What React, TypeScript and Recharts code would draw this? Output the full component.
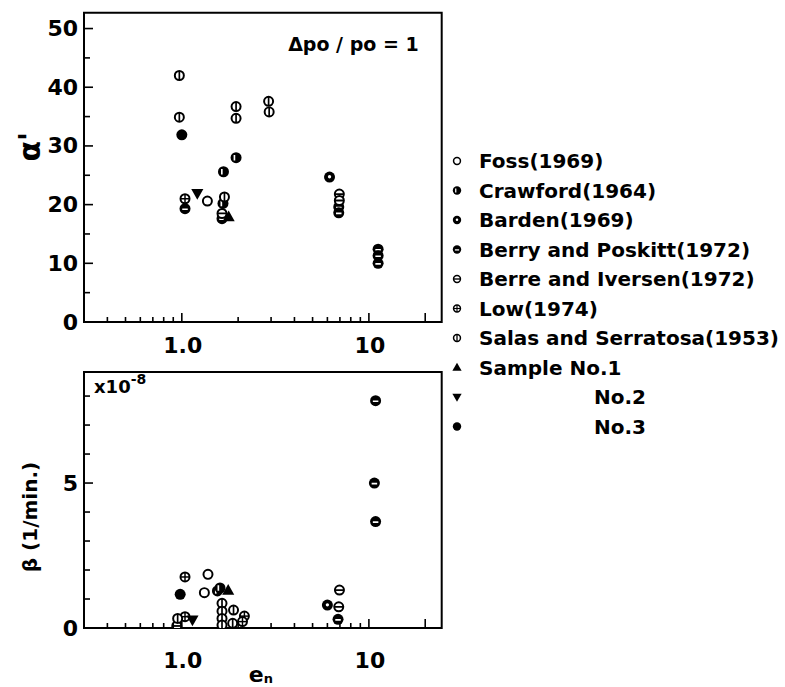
import React from 'react';
import { ScatterChart, Scatter, XAxis, YAxis, Legend, ReferenceArea } from 'recharts';

const FONT = '"DejaVu Sans", Verdana, sans-serif';

// ---------- axes ----------
const X_DOMAIN: [number, number] = [0.3, 24.5];
const xTicks = [0.4, 0.5, 0.6, 0.7, 0.8, 0.9, 1, 2, 3, 4, 5, 6, 7, 8, 9, 10, 20];
const xMajorTicks = [1, 10, 20];
const xTickLabels: Record<string, string> = { '1': '1.0', '10': '10' };

const ALPHA_MAX = 52.7;
const alphaTicks = [0, 5, 10, 15, 20, 25, 30, 35, 40, 45, 50];
const alphaLabels = [0, 10, 20, 30, 40, 50];

const BETA_MAX = 8.83;
const betaTicks = [0, 1, 2, 3, 4, 5, 6, 7, 8];
const betaLabels = [0, 5];

// ---------- data: top panel (alpha') ----------
const fossAlpha = [{ e: 1.37, v: 20.6 }];
const crawfordAlpha = [{ e: 1.95, v: 28.0 }, { e: 1.67, v: 25.6 }, { e: 1.66, v: 20.2 }];
const bardenAlpha = [{ e: 6.16, v: 24.7 }];
const berryAlpha = [
  { e: 1.04, v: 19.3 }, { e: 1.64, v: 17.6 }, { e: 6.9, v: 19.6 }, { e: 6.9, v: 18.6 },
  { e: 11.2, v: 12.4 }, { e: 11.2, v: 11.3 }, { e: 11.2, v: 10.0 },
];
const berreAlpha = [{ e: 6.95, v: 21.8 }, { e: 6.95, v: 20.7 }, { e: 1.64, v: 18.5 }];
const lowAlpha = [{ e: 1.04, v: 21.0 }];
const salasAlpha = [
  { e: 0.97, v: 42.0 }, { e: 0.97, v: 34.9 }, { e: 1.95, v: 36.7 }, { e: 1.95, v: 34.7 },
  { e: 2.91, v: 37.6 }, { e: 2.93, v: 35.8 }, { e: 1.69, v: 21.3 },
];
const no1Alpha = [{ e: 1.78, v: 17.9 }];
const no2Alpha = [{ e: 1.21, v: 21.9 }];
const no3Alpha = [{ e: 1.0, v: 31.9 }];

// ---------- data: bottom panel (beta x 1e-8) ----------
const fossBeta = [{ e: 1.38, v: 1.85 }, { e: 1.32, v: 1.22 }];
const crawfordBeta = [{ e: 1.55, v: 1.28 }, { e: 1.6, v: 1.38 }];
const bardenBeta = [{ e: 6.0, v: 0.79 }];
const berryBeta = [{ e: 10.7, v: 5.0 }, { e: 10.86, v: 3.67 }, { e: 10.86, v: 7.84 }, { e: 6.84, v: 0.3 }];
const berreBeta = [{ e: 6.96, v: 1.31 }, { e: 6.9, v: 0.73 }, { e: 0.94, v: 0.07 }];
const lowBeta = [{ e: 1.04, v: 1.76 }, { e: 1.04, v: 0.39 }, { e: 2.16, v: 0.41 }, { e: 2.11, v: 0.22 }];
const salasBeta = [
  { e: 1.64, v: 0.85 }, { e: 1.64, v: 0.58 }, { e: 1.64, v: 0.33 }, { e: 1.64, v: 0.1 },
  { e: 1.89, v: 0.62 }, { e: 1.87, v: 0.16 }, { e: 0.95, v: 0.33 },
];
const no1Beta = [{ e: 1.77, v: 1.3 }];
const no2Beta = [{ e: 1.14, v: 0.28 }];
const no3Beta = [{ e: 0.98, v: 1.16 }];

const seriesNames = [
  'Foss(1969)', 'Crawford(1964)', 'Barden(1969)', 'Berry and Poskitt(1972)',
  'Berre and Iversen(1972)', 'Low(1974)', 'Salas and Serratosa(1953)',
  'Sample No.1', 'No.2', 'No.3',
];

const series = [
  { name: seriesNames[0], kind: 'open', top: fossAlpha, bottom: fossBeta },
  { name: seriesNames[1], kind: 'crawford', top: crawfordAlpha, bottom: crawfordBeta },
  { name: seriesNames[2], kind: 'barden', top: bardenAlpha, bottom: bardenBeta },
  { name: seriesNames[3], kind: 'berry', top: berryAlpha, bottom: berryBeta },
  { name: seriesNames[4], kind: 'berre', top: berreAlpha, bottom: berreBeta },
  { name: seriesNames[5], kind: 'low', top: lowAlpha, bottom: lowBeta },
  { name: seriesNames[6], kind: 'salas', top: salasAlpha, bottom: salasBeta },
  { name: seriesNames[7], kind: 'up', top: no1Alpha, bottom: no1Beta },
  { name: seriesNames[8], kind: 'down', top: no2Alpha, bottom: no2Beta },
  { name: seriesNames[9], kind: 'filled', top: no3Alpha, bottom: no3Beta },
];

// ---------- markers ----------
function Marker({ kind, cx, cy, r }: { kind: string; cx: number; cy: number; r: number }) {
  const k = '#000';
  const sw = Math.max(1.5, r * 0.36);
  const ri = r - sw / 2;
  switch (kind) {
    case 'open':
      return <circle cx={cx} cy={cy} r={ri} fill="#fff" stroke={k} strokeWidth={sw} />;
    case 'filled':
      return <circle cx={cx} cy={cy} r={r} fill={k} />;
    case 'crawford':
      return (
        <g>
          <circle cx={cx} cy={cy} r={r} fill={k} />
          <line x1={cx - r * 0.3} x2={cx - r * 0.3} y1={cy - r * 0.5} y2={cy + r * 0.5} stroke="#fff" strokeWidth={r * 0.3} />
        </g>
      );
    case 'barden':
      return (
        <g>
          <circle cx={cx} cy={cy} r={r} fill={k} />
          <circle cx={cx} cy={cy - r * 0.05} r={r * 0.3} fill="#fff" />
        </g>
      );
    case 'berry':
      return (
        <g>
          <circle cx={cx} cy={cy} r={r} fill={k} />
          <line x1={cx - r * 0.5} x2={cx + r * 0.5} y1={cy + r * 0.1} y2={cy + r * 0.1} stroke="#fff" strokeWidth={r * 0.3} />
        </g>
      );
    case 'berre':
      return (
        <g>
          <circle cx={cx} cy={cy} r={ri} fill="#fff" stroke={k} strokeWidth={sw} />
          <line x1={cx - ri} x2={cx + ri} y1={cy} y2={cy} stroke={k} strokeWidth={sw * 0.9} />
        </g>
      );
    case 'low':
      return (
        <g>
          <circle cx={cx} cy={cy} r={ri} fill="#fff" stroke={k} strokeWidth={sw} />
          <line x1={cx - ri} x2={cx + ri} y1={cy} y2={cy} stroke={k} strokeWidth={sw * 0.75} />
          <line x1={cx} x2={cx} y1={cy - ri} y2={cy + ri} stroke={k} strokeWidth={sw * 0.75} />
        </g>
      );
    case 'salas':
      return (
        <g>
          <circle cx={cx} cy={cy} r={ri} fill="#fff" stroke={k} strokeWidth={sw} />
          <line x1={cx} x2={cx} y1={cy - ri} y2={cy + ri} stroke={k} strokeWidth={sw * 0.85} />
        </g>
      );
    case 'up':
      return <polygon points={`${cx},${cy - r * 1.15} ${cx - r * 1.1},${cy + r * 0.8} ${cx + r * 1.1},${cy + r * 0.8}`} fill={k} />;
    case 'down':
      return <polygon points={`${cx},${cy + r * 1.15} ${cx - r * 1.1},${cy - r * 0.8} ${cx + r * 1.1},${cy - r * 0.8}`} fill={k} />;
    default:
      return null;
  }
}

const makeShape = (kind: string, r: number) => (p: any) =>
  p && p.cx != null && p.cy != null ? <Marker kind={kind} cx={p.cx} cy={p.cy} r={r} /> : <g />;

// ---------- ticks ----------
const XTick = (props: any) => {
  const { x, y, payload, labelOffset } = props;
  const v = payload.value;
  const major = xMajorTicks.indexOf(v) >= 0;
  const lbl = xTickLabels[String(v)];
  return (
    <g>
      <line x1={x} x2={x} y1={y} y2={y - (major ? 9 : 5)} stroke="#000" strokeWidth={1.6} />
      {lbl ? (
        <text x={x + 1} y={y + labelOffset} textAnchor="middle" dominantBaseline="central"
          fontFamily={FONT} fontWeight={700} fontSize={22} fill="#000">{lbl}</text>
      ) : null}
    </g>
  );
};

const YTick = (props: any) => {
  const { x, y, payload, labels, majors } = props;
  const v = payload.value;
  const major = majors.indexOf(v) >= 0;
  const showLbl = labels.indexOf(v) >= 0;
  return (
    <g>
      <line x1={x} x2={x + (major ? 9 : 6)} y1={y} y2={y} stroke="#000" strokeWidth={1.6} />
      {showLbl ? (
        <text x={x - 6} y={y} textAnchor="end" dominantBaseline="central"
          fontFamily={FONT} fontWeight={700} fontSize={22} fill="#000">{v}</text>
      ) : null}
    </g>
  );
};

// ---------- legend ----------
const LEG_LEFT = 440;
const LEG_TOP = 140;
const renderLegend = () => (
  <svg width={345} height={310} style={{ display: 'block' }}>
    {series.map((s, i) => {
      const y = 21 + i * 29.5;
      const indent = i >= 8;
      return (
        <g key={s.name}>
          <Marker kind={s.kind} cx={17} cy={y} r={4.2} />
          <text x={indent ? 154 : 39} y={y} dominantBaseline="central" fontFamily={FONT}
            fontWeight={700} fontSize={20} fill="#000">{s.name}</text>
        </g>
      );
    })}
  </svg>
);

export default function App() {
  return (
    <div style={{ position: 'absolute', left: 0, top: 0, width: 785, height: 687, background: '#fff' }}>
      <div style={{ position: 'absolute', left: 0, top: 0 }}>
        <ScatterChart width={785} height={360} margin={{ top: 12.7, right: 343.3, bottom: 0, left: 0 }}>
          <XAxis dataKey="e" type="number" scale="log" domain={X_DOMAIN} allowDataOverflow ticks={xTicks}
            interval={0} tickSize={0} tickMargin={0} tickLine={false} axisLine={false} height={38}
            tick={(p: any) => <XTick {...p} labelOffset={23} />} />
          <YAxis dataKey="v" type="number" domain={[0, ALPHA_MAX]} allowDataOverflow ticks={alphaTicks}
            interval={0} tickSize={0} tickMargin={0} tickLine={false} axisLine={false} width={84}
            tick={(p: any) => <YTick {...p} labels={alphaLabels} majors={alphaLabels} />}
            label={(lp: any) => {
              const vb = lp.viewBox || { x: 0, y: 12.7 };
              const cx = vb.x + 30;
              const cy = vb.y + 134;
              return (
                <text x={cx} y={cy} transform={`rotate(-90 ${cx} ${cy})`} textAnchor="middle" dominantBaseline="central"
                  fontFamily={FONT} fontWeight={700} fontSize={30} fill="#000">α'</text>
              );
            }} />
          <ReferenceArea x1={X_DOMAIN[0]} x2={X_DOMAIN[1]} y1={0} y2={ALPHA_MAX} fill="none" stroke="#000" strokeWidth={2}
            label={(lp: any) => {
              const vb = lp.viewBox || { x: 84, y: 12.7, width: 357.7 };
              return (
                <text x={vb.x + vb.width - 23} y={vb.y + 31} textAnchor="end" dominantBaseline="central"
                  fontFamily={FONT} fontWeight={700} fontSize={19} fill="#000">Δpo / po = 1</text>
              );
            }} />
          {series.map((s) => (
            <Scatter key={s.name} name={s.name} data={s.top} shape={makeShape(s.kind, 5.5)} isAnimationActive={false} />
          ))}
          <Legend verticalAlign="middle" align="center" layout="horizontal" content={renderLegend}
            wrapperStyle={{ position: 'absolute', left: LEG_LEFT, top: LEG_TOP, width: 345, height: 310 }} />
        </ScatterChart>
      </div>
      <div style={{ position: 'absolute', left: 0, top: 360 }}>
        <ScatterChart width={785} height={327} margin={{ top: 12, right: 343.3, bottom: 0, left: 0 }}>
          <XAxis dataKey="e" type="number" scale="log" domain={X_DOMAIN} allowDataOverflow ticks={xTicks}
            interval={0} tickSize={0} tickMargin={0} tickLine={false} axisLine={false} height={59}
            tick={(p: any) => <XTick {...p} labelOffset={32} />}
            label={(lp: any) => {
              const vb = lp.viewBox || { x: 84, y: 268, width: 357.7 };
              const x = vb.x + vb.width / 2 - 14;
              const y = vb.y + 46;
              return (
                <text x={x} y={y} dominantBaseline="central" fontFamily={FONT} fontWeight={700} fontSize={22} fill="#000">
                  e<tspan fontSize={13} dy={4}>n</tspan>
                </text>
              );
            }} />
          <YAxis dataKey="v" type="number" domain={[0, BETA_MAX]} allowDataOverflow ticks={betaTicks}
            interval={0} tickSize={0} tickMargin={0} tickLine={false} axisLine={false} width={84}
            tick={(p: any) => <YTick {...p} labels={betaLabels} majors={betaLabels} />}
            label={(lp: any) => {
              const vb = lp.viewBox || { x: 0, y: 12 };
              const cx = vb.x + 30;
              const cy = vb.y + 145;
              return (
                <text x={cx} y={cy} transform={`rotate(-90 ${cx} ${cy})`} textAnchor="middle" dominantBaseline="central"
                  fontFamily={FONT} fontWeight={700} fontSize={20} fill="#000">β (1/min.)</text>
              );
            }} />
          <ReferenceArea x1={X_DOMAIN[0]} x2={X_DOMAIN[1]} y1={0} y2={BETA_MAX} fill="none" stroke="#000" strokeWidth={2}
            label={(lp: any) => {
              const vb = lp.viewBox || { x: 84, y: 12 };
              return (
                <text x={vb.x + 10} y={vb.y + 14} dominantBaseline="central" fontFamily={FONT} fontWeight={700}
                  fontSize={18} fill="#000">x10<tspan fontSize={14} dy={-7}>-8</tspan></text>
              );
            }} />
          {series.map((s) => (
            <Scatter key={s.name} name={s.name} data={s.bottom} shape={makeShape(s.kind, 5.5)} isAnimationActive={false} />
          ))}
        </ScatterChart>
      </div>
    </div>
  );
}
